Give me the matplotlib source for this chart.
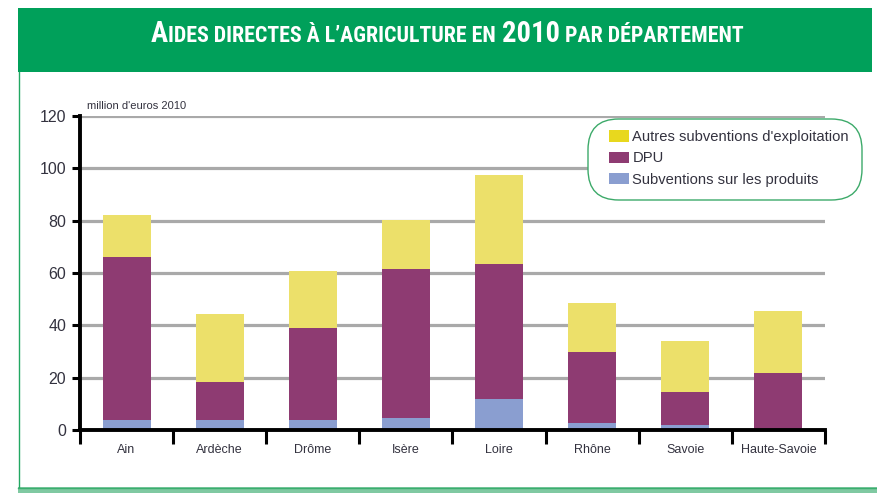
import matplotlib
matplotlib.use('Agg')
import matplotlib.pyplot as plt
from matplotlib.patches import Rectangle, Patch, FancyBboxPatch
from matplotlib.lines import Line2D
import numpy as np

# ---------------- data ----------------
categories = ['Ain', 'Ardèche', 'Drôme', 'Isère', 'Loire', 'Rhône', 'Savoie', 'Haute-Savoie']
subv_produits = [3.8, 3.8, 3.8, 4.7, 12.0, 2.8, 1.8, 0.0]
dpu = [62.4, 14.4, 35.2, 56.8, 51.4, 26.9, 12.6, 21.7]
autres = [16.0, 26.0, 21.6, 18.7, 34.2, 18.7, 19.6, 23.9]
yticks = [0, 20, 40, 60, 80, 100, 120]
series_labels = ["Autres subventions d'exploitation", 'DPU', 'Subventions sur les produits']
unit_label = "million d'euros 2010"
title_pieces = [('A', 'big'), ('IDES DIRECTES À L’AGRICULTURE EN', 'small'),
                ('2010', 'big'), ('PAR DÉPARTEMENT', 'small')]

# ---------------- style ----------------
plt.rcParams['font.family'] = ['Liberation Sans', 'DejaVu Sans']
W, H = 877, 493
GREEN = '#00A05A'
YELLOW = '#ECE06A'
YELLOW_LEG = '#E8D81E'
PURPLE = '#8E3B72'
BLUE = '#8A9ED0'
TXT = '#33323F'


def fx(px):
    return px / W


def fy(py):
    return 1 - py / H


fig = plt.figure(figsize=(W / 100, H / 100), dpi=100)
fig.patch.set_facecolor('white')

# header band
fig.patches.append(Rectangle((fx(18), fy(72)), fx(872) - fx(18), fy(8) - fy(72),
                             transform=fig.transFigure, facecolor=GREEN, edgecolor='none', zorder=0))
# left border
fig.lines.append(Line2D([fx(18.5), fx(18.5)], [fy(72), fy(487)], transform=fig.transFigure,
                        color='#22A862', lw=1.0))
# bottom band
fig.patches.append(Rectangle((fx(18), 0), 1 - fx(18), fy(487),
                             transform=fig.transFigure, facecolor='#80C9A2', edgecolor='none', zorder=0))
fig.lines.append(Line2D([fx(18), 1], [fy(487.5), fy(487.5)], transform=fig.transFigure,
                        color='#3AAE6E', lw=1.0))

# ---------------- axes ----------------
ax = fig.add_axes([fx(80), fy(430), fx(825) - fx(80), fy(116) - fy(430)])
x = np.arange(len(categories))
sp = np.array(subv_produits)
dp = np.array(dpu)
au = np.array(autres)
bw = 0.515
ax.bar(x, sp, width=bw, color=BLUE, zorder=3)
ax.bar(x, dp, bottom=sp, width=bw, color=PURPLE, zorder=3)
ax.bar(x, au, bottom=sp + dp, width=bw, color=YELLOW, zorder=3)

ax.set_xlim(-0.5, len(categories) - 0.5)
ax.set_ylim(0, 120)
ax.set_yticks(yticks)
ax.set_yticklabels([str(v) for v in yticks])
ax.yaxis.grid(True, color='#A9A9A9', lw=2.3)
ax.set_axisbelow(True)

for s in ['top', 'right']:
    ax.spines[s].set_visible(False)
for s in ['left', 'bottom']:
    ax.spines[s].set_linewidth(2.8)
    ax.spines[s].set_color('black')
    ax.spines[s].set_zorder(5)

ax.tick_params(axis='y', length=6, width=2.2, pad=4, labelsize=11.5, labelcolor=TXT)
ax.set_xticks(x)
ax.set_xticklabels(categories)
ax.set_xticks(np.arange(-0.5, len(categories), 1), minor=True)
ax.tick_params(axis='x', which='major', length=0, pad=10, labelsize=9, labelcolor=TXT)
ax.tick_params(axis='x', which='minor', length=10, width=2.2, direction='out')

fig.text(fx(87), fy(109), unit_label, fontsize=8, color=TXT, ha='left', va='baseline')

# legend box (drawn separately) + legend content
box = FancyBboxPatch((fx(588), fy(200)), fx(862) - fx(588), fy(119) - fy(200),
                     boxstyle='round,pad=0,rounding_size=0.035', transform=fig.transFigure,
                     facecolor='white', edgecolor='#3DAA6A', lw=1.0, zorder=8,
                     mutation_aspect=W / H)
fig.patches.append(box)

handles = [Patch(facecolor=YELLOW_LEG, label=series_labels[0]),
           Patch(facecolor=PURPLE, label=series_labels[1]),
           Patch(facecolor=BLUE, label=series_labels[2])]
leg = fig.legend(handles=handles, loc='upper left', bbox_to_anchor=(fx(609), fy(130)),
                 bbox_transform=fig.transFigure, frameon=False, fontsize=10.6,
                 handlelength=1.38, handleheight=0.82, handletextpad=0.2, labelspacing=0.5,
                 borderpad=0, borderaxespad=0)
for t in leg.get_texts():
    t.set_color(TXT)
leg.set_zorder(10)

# ---------------- title (small caps) ----------------
renderer = fig.canvas.get_renderer()
sizes = {'big': 17.0, 'small': 13.0}
tfam = ['Roboto Condensed', 'Liberation Sans Narrow', 'Roboto', 'DejaVu Sans']


def build(scale):
    texts = []
    for s, kind in title_pieces:
        t = fig.text(0, fy(42), s, fontsize=sizes[kind] * scale, fontweight='bold',
                     family=tfam, color='white', ha='left', va='baseline')
        w = t.get_window_extent(renderer).width
        texts.append((t, w))
    return texts


texts = build(1.0)
space = 0.26 * sizes['small'] * 100 / 72
gaps = [0, 0, space, space]
total = sum(w for _, w in texts) + sum(gaps)
scale = 592 / total
for t, _ in texts:
    t.remove()
texts = build(scale)
space *= scale
gaps = [0, 0, space, space]
cur = 151
for (t, w), g in zip(texts, gaps):
    cur += g
    t.set_x(fx(cur))
    cur += w

fig.savefig('out.png', dpi=100)
